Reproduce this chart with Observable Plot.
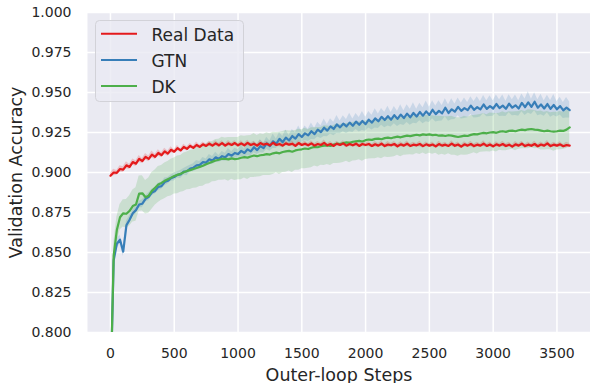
<!DOCTYPE html>
<html>
<head>
<meta charset="utf-8">
<script src="https://cdn.jsdelivr.net/npm/d3@7"></script>
<script src="https://cdn.jsdelivr.net/npm/@observablehq/plot@0.6"></script>
<style>
  html, body { margin: 0; padding: 0; background: white; }
  #wrap { position: relative; width: 590px; height: 383px; overflow: hidden; font-family: "DejaVu Sans", sans-serif; }
  #legend { position: absolute; left: 0; top: 0; }
</style>
</head>
<body>
<div id="wrap"></div>
<script>
// ---- data ----
const seriesNames = ["Real Data", "GTN", "DK"];
const seriesColors = ["#E41A1C", "#377EB8", "#4DAF4A"];
const xTicks = [0, 500, 1000, 1500, 2000, 2500, 3000, 3500];
const yTicks = [0.800, 0.825, 0.850, 0.875, 0.900, 0.925, 0.950, 0.975, 1.000];
const steps = d3.range(0, 3601, 25);

const realData = [
  0.8980,0.9000,0.8998,0.9022,0.9018,0.9045,0.9035,0.9065,0.9055,0.9085,
  0.9072,0.9098,0.9085,0.9112,0.9098,0.9122,0.9108,0.9132,0.9118,0.9142,
  0.9130,0.9152,0.9138,0.9160,0.9148,0.9166,0.9154,0.9172,0.9160,0.9176,
  0.9166,0.9180,0.9168,0.9182,0.9170,0.9184,0.9168,0.9182,0.9172,0.9184,
  0.9170,
  0.9182,0.9170,0.9185,0.9172,0.9180,0.9168,0.9184,0.9174,0.9180,0.9170,
  0.9186,0.9172,0.9178,0.9168,0.9182,0.9174,0.9180,0.9166,0.9184,0.9172,
  0.9180,0.9170,0.9182,0.9168,0.9178,0.9172,0.9185,0.9170,0.9178,0.9166,
  0.9180,0.9172,0.9182,0.9168,0.9178,0.9170,0.9180,0.9166,0.9178,0.9172,
  0.9178,0.9166,0.9176,0.9168,0.9180,0.9165,0.9175,0.9170,0.9178,0.9164,
  0.9176,0.9168,0.9180,0.9166,0.9174,0.9170,0.9178,0.9165,0.9176,0.9168,
  0.9175,0.9163,0.9178,0.9168,0.9174,0.9166,0.9180,0.9167,0.9175,0.9162,
  0.9176,0.9168,0.9178,0.9165,0.9174,0.9168,0.9180,0.9166,0.9175,0.9163,
  0.9176,0.9168,0.9178,0.9166,0.9174,0.9162,0.9176,0.9168,0.9180,0.9165,
  0.9174,0.9167,0.9178,0.9164,0.9175,0.9168,0.9182,0.9165,0.9174,0.9168,
  0.9176,0.9164,0.9172,0.9168
];
const realSd = [
  0.0015,0.0020,0.0015,0.0020,0.0018,0.0022,0.0016,0.0020,0.0018,0.0022,
  0.0016,0.0020,0.0018,0.0022,0.0016,0.0020,0.0015,0.0020,0.0016,0.0019,
  0.0012,0.0016,0.0011,0.0017,0.0013,0.0015,0.0011,0.0018,0.0012,0.0015,
  0.0012,0.0016,0.0011,0.0017,0.0013,0.0015,0.0011,0.0018,0.0012,0.0015,
  0.0012,0.0016,0.0011,0.0017,0.0013,0.0015,0.0011,0.0018,0.0012,0.0015,
  0.0012,0.0016,0.0011,0.0017,0.0013,0.0015,0.0011,0.0018,0.0012,0.0015,
  0.0012,0.0016,0.0011,0.0017,0.0013,0.0015,0.0011,0.0018,0.0012,0.0015,
  0.0012,0.0016,0.0011,0.0017,0.0013,0.0015,0.0011,0.0018,0.0012,0.0015,
  0.0012,0.0016,0.0011,0.0017,0.0013,0.0015,0.0011,0.0018,0.0012,0.0015,
  0.0012,0.0016,0.0011,0.0017,0.0013,0.0015,0.0011,0.0018,0.0012,0.0015,
  0.0012,0.0016,0.0011,0.0017,0.0013,0.0015,0.0011,0.0018,0.0012,0.0015,
  0.0012,0.0016,0.0011,0.0017,0.0013,0.0015,0.0011,0.0018,0.0012,0.0015,
  0.0012,0.0016,0.0011,0.0017,0.0013,0.0015,0.0011,0.0018,0.0012,0.0015,
  0.0012,0.0016,0.0011,0.0017,0.0013,0.0015,0.0011,0.0018,0.0012,0.0015,
  0.0012,0.0016,0.0011,0.0017,0.0013
];
const gtn = [
  0.7600,0.8450,0.8555,0.8580,0.8505,0.8670,0.8705,0.8745,0.8765,0.8800,
  0.8805,0.8835,0.8848,0.8875,0.8885,0.8910,0.8915,0.8940,0.8948,0.8965,
  0.8972,0.8985,0.8988,0.9005,0.9008,0.9025,0.9030,0.9045,0.9048,0.9065,
  0.9062,0.9082,0.9075,0.9095,0.9085,0.9102,0.9095,0.9115,0.9105,0.9122,
  0.9115,0.9135,0.9122,0.9145,0.9132,0.9158,0.9140,0.9165,0.9152,0.9182,
  0.9165,0.9195,0.9180,0.9210,0.9190,0.9218,0.9200,0.9228,0.9212,0.9240,
  0.9222,0.9245,0.9232,0.9258,0.9240,0.9268,0.9252,0.9280,0.9262,0.9288,
  0.9272,0.9300,0.9282,0.9305,0.9288,0.9312,0.9292,0.9318,0.9298,0.9322,
  0.9302,0.9330,0.9312,0.9338,0.9320,0.9348,0.9328,0.9352,0.9330,0.9358,
  0.9335,0.9362,0.9340,0.9368,0.9345,0.9372,0.9350,0.9378,0.9355,0.9382,
  0.9360,0.9392,0.9365,0.9385,0.9370,0.9405,0.9372,0.9395,0.9380,0.9410,
  0.9385,0.9402,0.9390,0.9418,0.9392,0.9408,0.9395,0.9425,0.9398,0.9415,
  0.9400,0.9428,0.9402,0.9418,0.9398,0.9430,0.9405,0.9420,0.9400,0.9435,
  0.9408,0.9438,0.9410,0.9442,0.9405,0.9425,0.9400,0.9428,0.9398,0.9422,
  0.9395,0.9415,0.9388,0.9405,0.9390
];
const gtnSd = [
  0.0030,0.0030,0.0030,0.0030,0.0030,0.0025,0.0025,0.0020,0.0025,0.0020,
  0.0025,0.0020,0.0025,0.0020,0.0020,0.0025,0.0020,0.0025,0.0020,0.0020,
  0.0025,
  0.0020,0.0025,0.0020,0.0028,0.0020,0.0025,0.0030,0.0020,0.0028,0.0022,
  0.0030,0.0025,0.0032,0.0022,0.0030,0.0025,0.0035,0.0025,0.0030,0.0028,
  0.0035,0.0025,0.0040,0.0030,0.0035,0.0028,0.0042,0.0030,0.0038,0.0032,
  0.0045,0.0030,0.0040,0.0035,0.0048,0.0032,0.0040,0.0036,0.0050,0.0035,
  0.0045,0.0038,0.0052,0.0036,0.0046,0.0040,0.0055,0.0038,0.0048,0.0042,
  0.0056,0.0040,0.0050,0.0044,0.0058,0.0042,0.0050,0.0045,0.0060,0.0044,
  0.0052,0.0046,0.0060,0.0045,0.0052,0.0048,0.0062,0.0045,0.0054,0.0048,
  0.0062,0.0046,0.0055,0.0050,0.0064,0.0046,0.0055,0.0050,0.0065,0.0048,
  0.0056,0.0050,0.0064,0.0048,0.0056,0.0052,0.0066,0.0048,0.0056,0.0050,
  0.0064,0.0048,0.0055,0.0052,0.0066,0.0048,0.0056,0.0050,0.0065,0.0048,
  0.0056,0.0052,0.0066,0.0048,0.0056,0.0050,0.0064,0.0048,0.0055,0.0052,
  0.0066,0.0048,0.0056,0.0050,0.0064,0.0048,0.0055,0.0052,0.0066,0.0048,
  0.0056,0.0050,0.0064,0.0050
];
const dk = [
  0.7600,0.8480,0.8640,0.8720,0.8745,0.8742,0.8760,0.8790,0.8800,0.8868,
  0.8870,0.8845,0.8855,0.8885,0.8905,0.8925,0.8935,0.8948,0.8958,0.8968,
  0.8978,0.8985,0.8992,0.9002,0.9010,0.9015,0.9022,0.9028,0.9035,0.9042,
  0.9052,0.9060,0.9068,0.9075,0.9080,0.9086,0.9085,0.9082,0.9088,0.9084,
  0.9086,0.9092,0.9096,0.9093,0.9100,0.9106,0.9102,0.9108,0.9110,0.9115,
  0.9112,0.9120,0.9124,0.9120,0.9128,0.9132,0.9135,0.9130,0.9138,0.9142,
  0.9145,0.9150,0.9147,0.9155,0.9160,0.9158,0.9164,0.9168,0.9170,0.9166,
  0.9175,0.9180,0.9178,0.9184,0.9188,0.9185,0.9192,0.9195,0.9198,0.9194,
  0.9202,0.9206,0.9204,0.9210,0.9212,0.9208,0.9215,0.9218,0.9214,0.9220,
  0.9224,0.9220,0.9226,0.9230,0.9227,0.9232,0.9236,0.9232,0.9238,0.9235,
  0.9238,0.9234,0.9236,0.9230,0.9232,0.9228,0.9233,0.9230,0.9226,0.9222,
  0.9226,0.9230,0.9228,0.9235,0.9240,0.9238,0.9244,0.9248,0.9245,0.9250,
  0.9252,0.9248,0.9255,0.9258,0.9254,0.9260,0.9262,0.9258,0.9264,0.9268,
  0.9265,0.9270,0.9272,0.9268,0.9266,0.9262,0.9258,0.9262,0.9258,0.9255,
  0.9258,0.9262,0.9260,0.9268,0.9282
];
const dkSd = [
  0.0040,0.0070,0.0080,0.0080,0.0085,0.0090,0.0095,0.0100,0.0105,0.0110,
  0.0110,0.0105,0.0110,0.0115,0.0110,0.0112,0.0108,0.0112,0.0110,0.0115,
  0.0112,0.0118,0.0115,0.0120,0.0118,0.0122,0.0120,0.0125,0.0122,0.0128,
  0.0125,0.0130,0.0126,0.0132,0.0128,0.0134,0.0130,0.0136,0.0130,0.0134,
  0.0132,0.0138,0.0130,0.0136,0.0132,0.0138,0.0130,0.0134,0.0128,0.0134,
  0.0130,0.0132,0.0126,0.0132,0.0128,0.0130,0.0125,0.0130,0.0124,0.0128,
  0.0122,0.0126,0.0120,0.0125,0.0120,0.0124,0.0118,0.0124,0.0120,0.0122,
  0.0118,0.0124,0.0120,0.0122,0.0118,0.0124,0.0120,0.0122,0.0118,0.0124,
  0.0120,0.0122,0.0118,0.0124,0.0120,0.0122,0.0118,0.0124,0.0118,0.0122,
  0.0116,0.0122,0.0118,0.0120,0.0116,0.0122,0.0118,0.0120,0.0116,0.0122,
  0.0118,0.0120,0.0116,0.0122,0.0118,0.0120,0.0116,0.0122,0.0118,0.0120,
  0.0116,0.0122,0.0118,0.0120,0.0116,0.0122,0.0118,0.0120,0.0116,0.0122,
  0.0118,0.0120,0.0116,0.0122,0.0118,0.0120,0.0116,0.0122,0.0118,0.0120,
  0.0116,0.0122,0.0118,0.0120,0.0116,0.0122,0.0118,0.0120,0.0116,0.0122,
  0.0118,0.0120,0.0116,0.0118,0.0115
];

// ---- build rows ----
function rows(values, sds) {
  const n = Math.min(values.length, sds.length, steps.length);
  const out = [];
  for (let i = 0; i < n; i++) {
    out.push({step: steps[i], value: values[i], lo: values[i] - sds[i], hi: values[i] + sds[i]});
  }
  return out;
}
const realRows = rows(realData, realSd);
const gtnRows = rows(gtn, gtnSd);
const dkRows = rows(dk, dkSd);

const textColor = "#262626";

const chart = Plot.plot({
  width: 590,
  height: 383,
  marginLeft: 87,
  marginRight: 0,
  marginTop: 12,
  marginBottom: 51,
  style: {background: "white", fontFamily: "'DejaVu Sans', sans-serif", fontSize: "14px", color: textColor},
  x: {domain: [-180, 3763], ticks: xTicks, tickFormat: d => String(d), tickSize: 0, tickPadding: 16, label: null},
  y: {domain: [0.8, 1.0], ticks: yTicks, tickFormat: d3.format(".3f"), tickSize: 0, tickPadding: 16, label: null},
  marks: [
    Plot.frame({fill: "#EAEAF2", stroke: "none"}),
    Plot.ruleX(xTicks, {x: d => d, stroke: "white", strokeWidth: 1.5}),
    Plot.ruleY(yTicks, {y: d => d, stroke: "white", strokeWidth: 1.5}),
    Plot.areaY(realRows, {x: "step", y1: "lo", y2: "hi", fill: seriesColors[0], fillOpacity: 0.2, clip: true}),
    Plot.areaY(gtnRows, {x: "step", y1: "lo", y2: "hi", fill: seriesColors[1], fillOpacity: 0.18, clip: true}),
    Plot.areaY(dkRows, {x: "step", y1: "lo", y2: "hi", fill: seriesColors[2], fillOpacity: 0.2, clip: true}),
    Plot.lineY(gtnRows, {x: "step", y: "value", stroke: seriesColors[1], strokeWidth: 2.2, clip: true}),
    Plot.lineY(dkRows, {x: "step", y: "value", stroke: seriesColors[2], strokeWidth: 2.2, clip: true}),
    Plot.lineY(realRows, {x: "step", y: "value", stroke: seriesColors[0], strokeWidth: 2.2, clip: true}),
    Plot.text(["Outer-loop Steps"], {text: d => d, frameAnchor: "bottom", lineAnchor: "middle", textAnchor: "middle", dy: 43, fontSize: 17.5, fill: textColor}),
    Plot.text(["Validation Accuracy"], {text: d => d, frameAnchor: "left", lineAnchor: "middle", textAnchor: "middle", dx: -71, rotate: -90, fontSize: 17.5, fill: textColor})
  ]
});

const wrap = document.getElementById("wrap");
wrap.appendChild(chart);

// ---- legend (overlay, upper left inside the axes) ----
const lg = d3.select(wrap).append("svg")
  .attr("id", "legend")
  .attr("width", 590).attr("height", 383)
  .style("pointer-events", "none");
lg.append("rect")
  .attr("x", 95.5).attr("y", 20.5).attr("width", 148).attr("height", 81)
  .attr("rx", 4).attr("ry", 4)
  .attr("fill", "#EAEAF2").attr("fill-opacity", 0.8)
  .attr("stroke", "#d2d2d8").attr("stroke-width", 1);
seriesNames.forEach((name, i) => {
  const cy = 33.7 + i * 26.2;
  lg.append("line")
    .attr("x1", 101).attr("x2", 137).attr("y1", cy).attr("y2", cy)
    .attr("stroke", seriesColors[i]).attr("stroke-width", 2);
  lg.append("text")
    .attr("x", 151.5).attr("y", cy + 6.8)
    .attr("fill", textColor)
    .style("font-family", "'DejaVu Sans', sans-serif")
    .style("font-size", "17px")
    .text(name);
});
</script>
</body>
</html>
